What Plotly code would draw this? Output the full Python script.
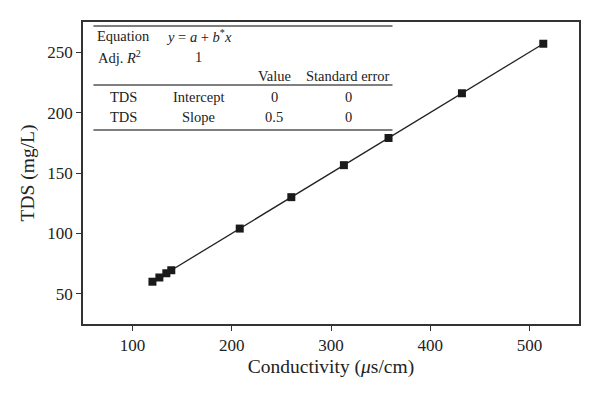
import plotly.graph_objects as go

# Data
conductivity = [120, 127, 134, 139, 208, 260, 313, 358, 432, 514]
tds = [60, 63.5, 67, 69.5, 104, 130, 156.5, 179, 216, 257]

# Fit table values
intercept = 0
slope = 0.5
adj_r2 = "1"
row_labels = ["TDS", "TDS"]
param_names = ["Intercept", "Slope"]
param_values = ["0", "0.5"]
param_errors = ["0", "0"]

FONT = "Liberation Serif"
AX = "#333333"

x_fit = [min(conductivity), max(conductivity)]
y_fit = [intercept + slope * v for v in x_fit]

fig = go.Figure()
fig.add_trace(go.Scatter(x=x_fit, y=y_fit, mode="lines",
                         line=dict(color="#222222", width=1.3), showlegend=False))
fig.add_trace(go.Scatter(x=conductivity, y=tds, mode="markers",
                         marker=dict(symbol="square", size=8, color="#1a1a1a"),
                         showlegend=False))

fig.update_layout(
    width=600, height=398,
    margin=dict(l=83, r=21, t=22, b=74),
    paper_bgcolor="white", plot_bgcolor="white",
    font=dict(family=FONT, color="#222222"),
    xaxis=dict(range=[50, 550], tickvals=[100, 200, 300, 400, 500],
               ticks="outside", ticklen=5, tickwidth=1.2, tickcolor=AX,
               showline=True, linecolor=AX, linewidth=1.5, mirror=True,
               showgrid=False, zeroline=False,
               tickfont=dict(size=17, family=FONT),
               title=dict(text="Conductivity (<i>μ</i>s/cm)", font=dict(size=19.5, family=FONT), standoff=5)),
    yaxis=dict(range=[25, 275], tickvals=[50, 100, 150, 200, 250],
               ticks="outside", ticklen=5, tickwidth=1.2, tickcolor=AX,
               showline=True, linecolor=AX, linewidth=1.5, mirror=True,
               showgrid=False, zeroline=False,
               tickfont=dict(size=17, family=FONT),
               title=dict(text="TDS (mg/L)", font=dict(size=19.5, family=FONT), standoff=8)),
)

# Table lines
for yl in [0.987, 0.791, 0.642]:
    fig.add_shape(type="line", xref="paper", yref="paper", x0=0.021, x1=0.624,
                  y0=yl, y1=yl, line=dict(color="#555555", width=1.5))

def ann(text, x, y):
    fig.add_annotation(text=text, xref="paper", yref="paper", x=x, y=y,
                       showarrow=False, xanchor="center", yanchor="middle",
                       font=dict(size=14.5, family=FONT, color="#222222"))

ann("Equation", 0.081, 0.955)
ann("<i>y</i> = <i>a</i> + <i>b</i><sup>*</sup><i>x</i>", 0.233, 0.955)
ann("Adj. <i>R</i><sup>2</sup>", 0.073, 0.884)
ann(adj_r2, 0.233, 0.884)
ann("Value", 0.386, 0.820)
ann("Standard error", 0.535, 0.820)
for i, yv in enumerate([0.752, 0.686]):
    ann(row_labels[i], 0.081, yv)
    ann(param_names[i], 0.233, yv)
    ann(param_values[i], 0.386, yv)
    ann(param_errors[i], 0.535, yv)

fig.write_html("out.html", config={"displayModeBar": False},
               post_script="document.body.style.margin='0';")
